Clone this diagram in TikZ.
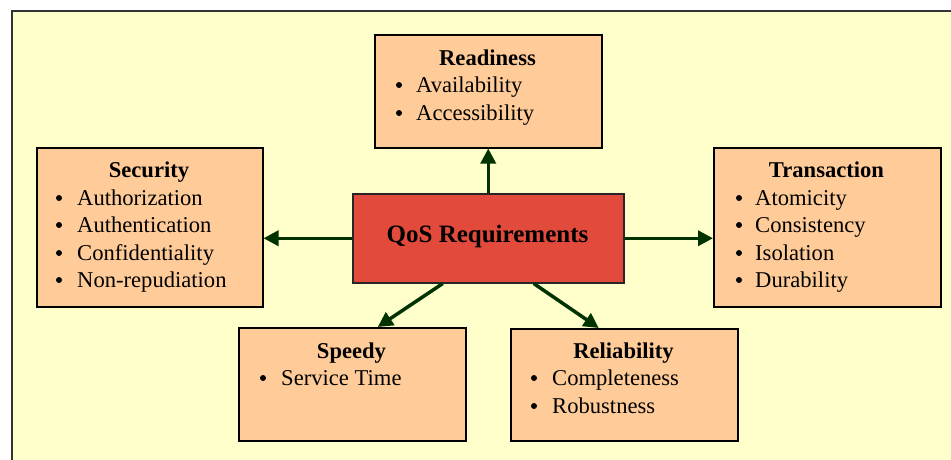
\documentclass[tikz,border=0pt]{standalone}
\usepackage{fontspec}
\setmainfont{Liberation Serif}
\usetikzlibrary{arrows.meta}
\definecolor{bgyellow}{HTML}{FFFFCC}
\definecolor{peach}{HTML}{FFCC99}
\definecolor{qosred}{HTML}{E24A3C}
\definecolor{arrgreen}{HTML}{003300}
\tikzset{
  catbox/.style={draw=black, line width=1.5pt, fill=peach, anchor=north west, inner sep=0pt},
  qosbox/.style={draw=black!85, line width=1.5pt, fill=qosred, anchor=north west, inner sep=0pt},
  ttl/.style={anchor=base, inner sep=0pt, font=\fontsize{22.6}{28}\selectfont\bfseries},
  bul/.style={circle, fill=black, inner sep=0pt, minimum size=6pt, yshift=7pt},
  itm/.style={anchor=base west, inner sep=0pt, font=\fontsize{22.6}{28}\selectfont},
  arr/.style={draw=arrgreen, line width=3.5pt, -{Triangle[length=15pt,width=15pt]}}
}
\begin{document}
\begin{tikzpicture}[x=1pt,y=-1pt]
\useasboundingbox (0,0) rectangle (951,459);
\fill[white] (0,0) rectangle (951,459);
\draw[fill=bgyellow, draw=black!80, line width=2pt] (12,11) rectangle (975,485);

% central node
\node[qosbox, minimum width=271pt, minimum height=89pt] (q) at (352,193) {};
\node[anchor=base, inner sep=0pt, font=\fontsize{25}{30}\selectfont\bfseries] (qt) at (487.5,242) {QoS Requirements};

% Readiness
\node[catbox, minimum width=227pt, minimum height=113pt] (readiness) at (374,34) {};
\node[ttl] (r0) at (487.5,65) {Readiness};
\node[bul] (rb1) at (399,92) {};
\node[itm] (r1) at (416,92) {Availability};
\node[bul] (rb2) at (399,120) {};
\node[itm] (r2) at (416,120) {Accessibility};

% Security
\node[catbox, minimum width=226pt, minimum height=159pt] (security) at (36,147) {};
\node[ttl] (s0) at (149,177) {Security};
\node[bul] (sb1) at (59,205) {};
\node[itm] (s1) at (77,205) {Authorization};
\node[bul] (sb2) at (59,232) {};
\node[itm] (s2) at (77,232) {Authentication};
\node[bul] (sb3) at (59,260) {};
\node[itm] (s3) at (77,260) {Confidentiality};
\node[bul] (sb4) at (59,287) {};
\node[itm] (s4) at (77,287) {Non-repudiation};

% Transaction
\node[catbox, minimum width=227pt, minimum height=159pt] (transaction) at (713,147) {};
\node[ttl] (t0) at (826.5,177) {Transaction};
\node[bul] (tb1) at (739,205) {};
\node[itm] (t1) at (755,205) {Atomicity};
\node[bul] (tb2) at (739,232) {};
\node[itm] (t2) at (755,232) {Consistency};
\node[bul] (tb3) at (739,260) {};
\node[itm] (t3) at (755,260) {Isolation};
\node[bul] (tb4) at (739,287) {};
\node[itm] (t4) at (755,287) {Durability};

% Speedy
\node[catbox, minimum width=227pt, minimum height=113pt] (speedy) at (238,327) {};
\node[ttl] (sp0) at (351.5,358) {Speedy};
\node[bul] (spb1) at (263,385) {};
\node[itm] (sp1) at (281,385) {Service Time};

% Reliability
\node[catbox, minimum width=227pt, minimum height=112pt] (reliability) at (510,328) {};
\node[ttl] (re0) at (623.5,358) {Reliability};
\node[bul] (reb1) at (534,385) {};
\node[itm] (re1) at (552,385) {Completeness};
\node[bul] (reb2) at (534,413) {};
\node[itm] (re2) at (552,413) {Robustness};

% arrows
\draw[arr] (q.north) -- (readiness.south);
\draw[arr] (q.west) -- (q.west -| security.east);
\draw[arr] (q.east) -- (q.east -| transaction.west);
\draw[arr] ([xshift=-45.5pt]q.south) -- ([xshift=25.5pt]speedy.north);
\draw[arr] ([xshift=45.5pt]q.south) -- ([xshift=-25.5pt]reliability.north);
\end{tikzpicture}
\end{document}
